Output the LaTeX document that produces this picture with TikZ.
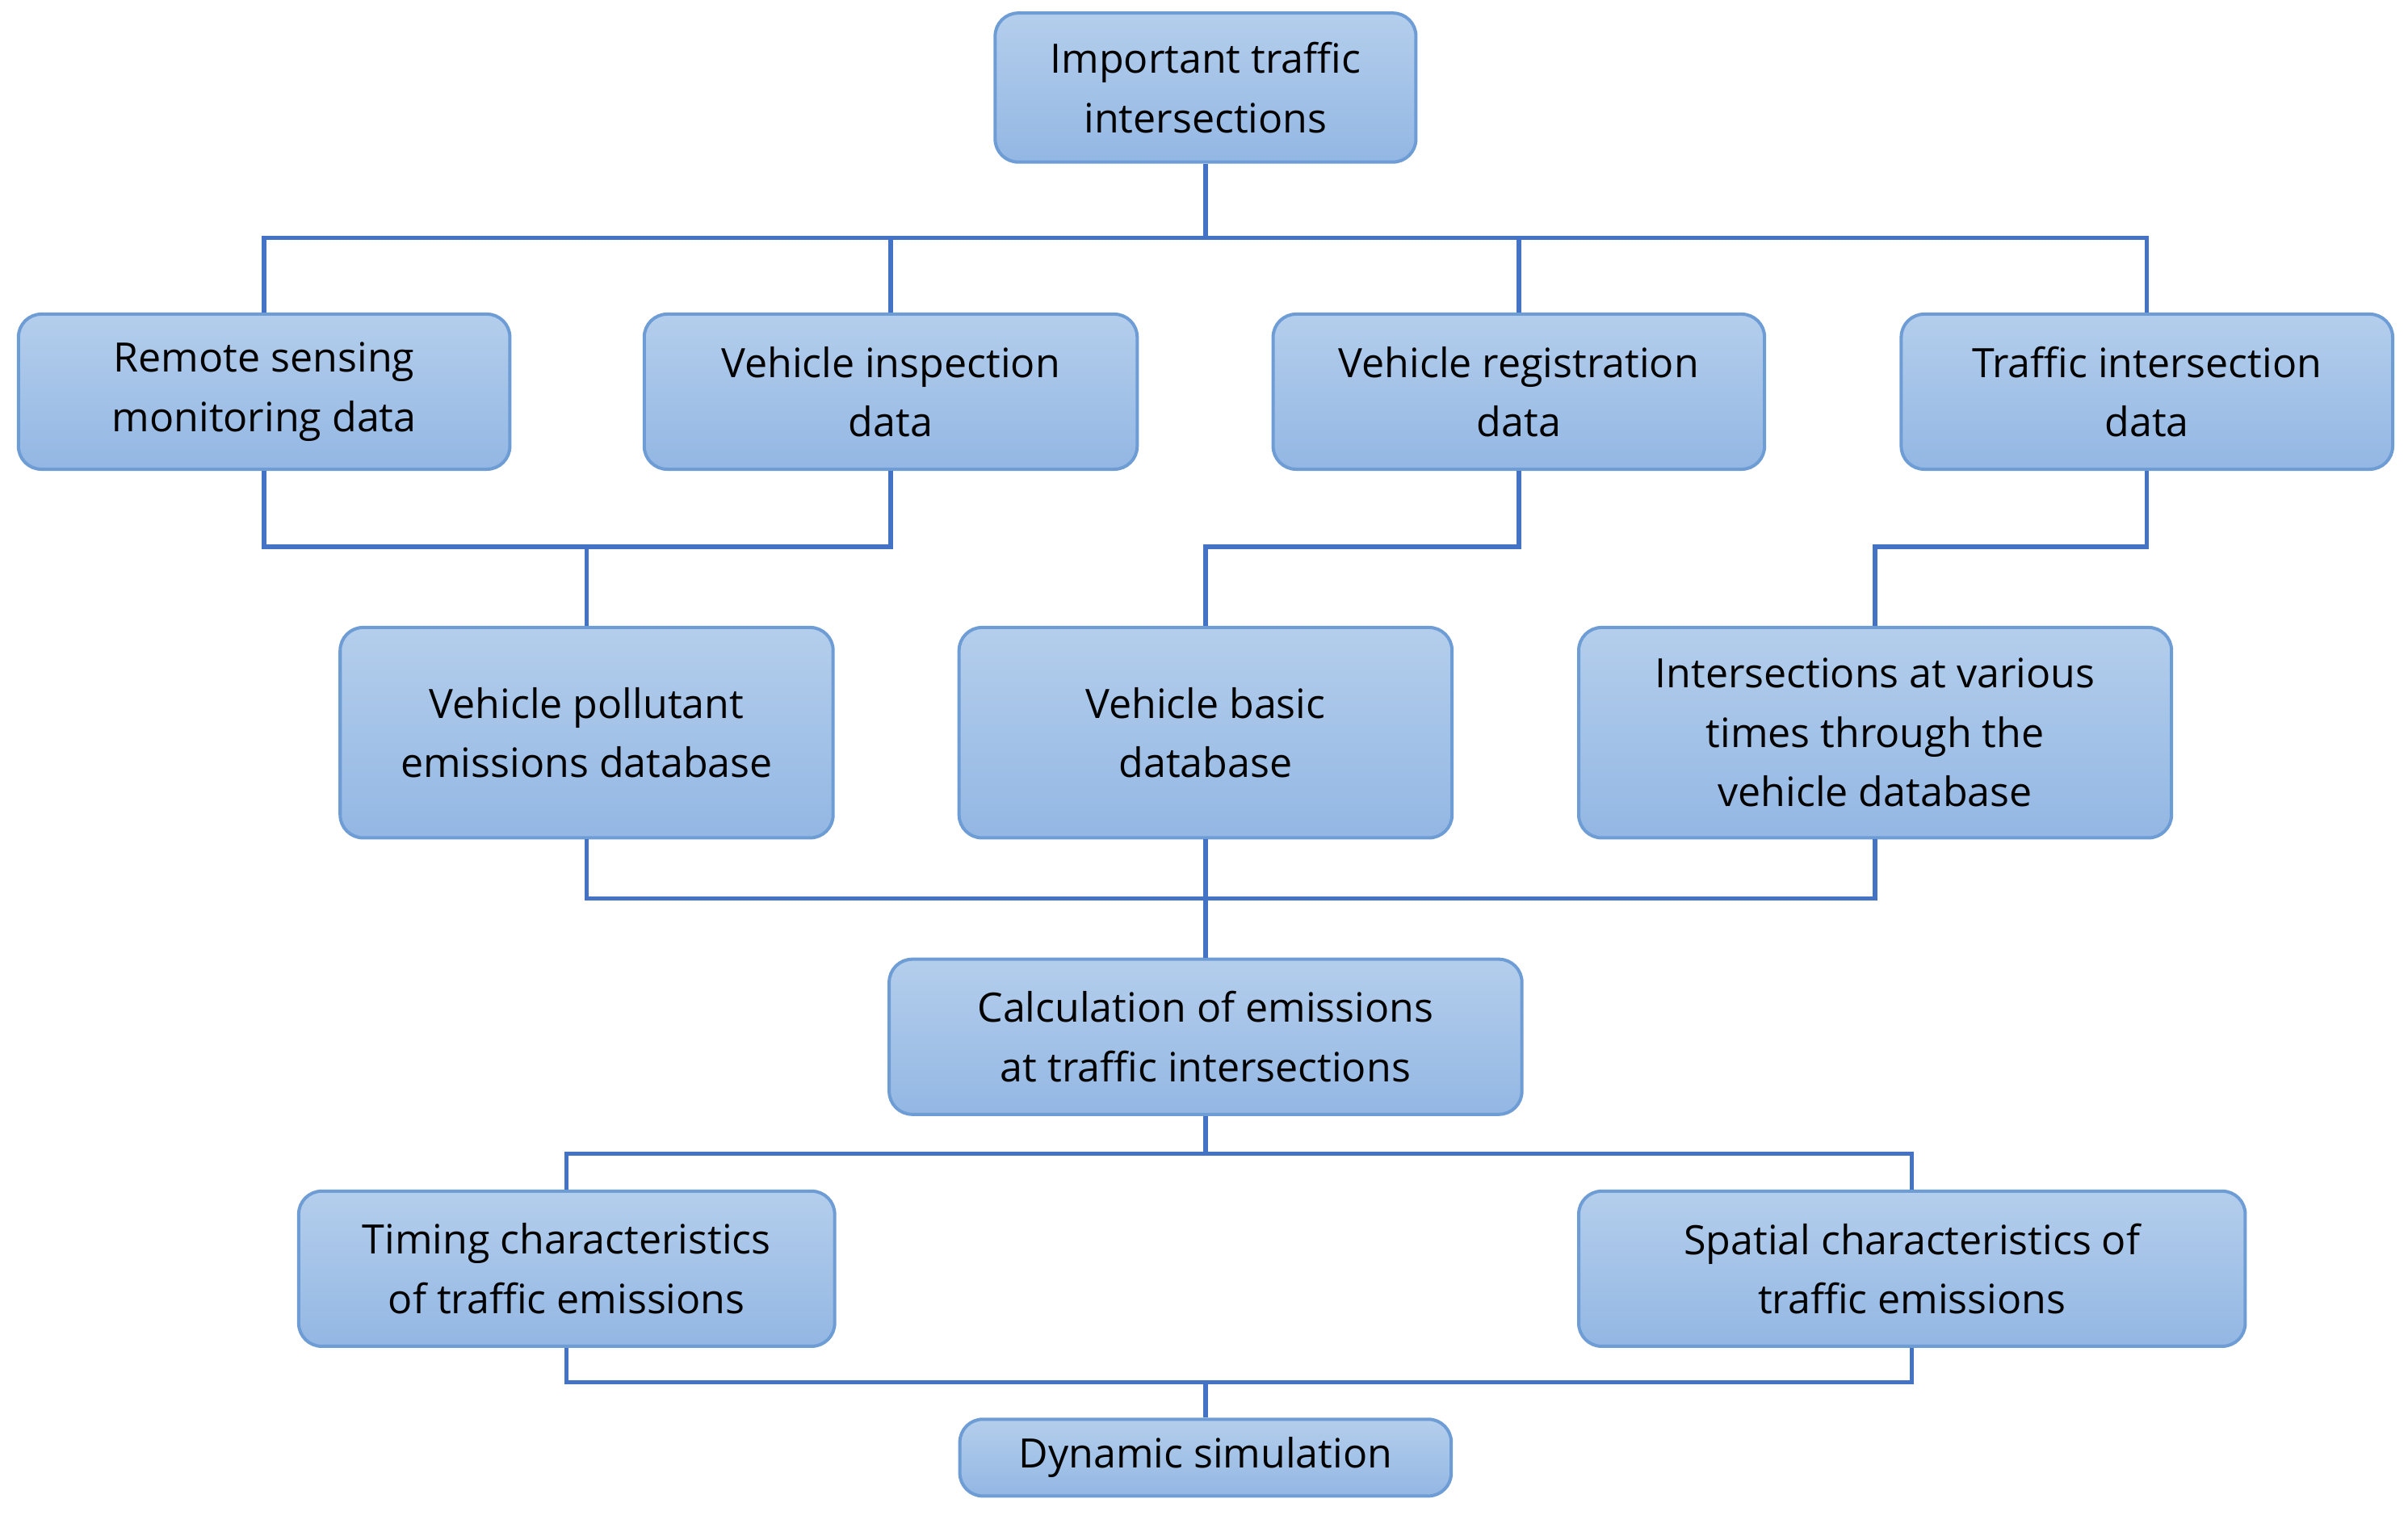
\documentclass[tikz,border=0pt]{standalone}
\usepackage{fontspec}
\setmainfont{Open Sans}
\begin{document}
\begin{tikzpicture}[x=0.02cm,y=-0.02cm,
 box/.style={draw=boxline,line width=1.2pt,rounded corners=0.3cm,top color=boxtop,bottom color=boxbot,align=center,font=\fontsize{15}{22}\selectfont,inner sep=0pt},
 ln/.style={draw=linec,line width=1.6pt}]
\definecolor{boxtop}{HTML}{B4CEEC}
\definecolor{boxbot}{HTML}{93B7E3}
\definecolor{boxline}{HTML}{6E9DD6}
\definecolor{linec}{HTML}{4472C4}
\useasboundingbox (0,0) rectangle (1568,992);
\newcommand\bx[6]{\node[box,minimum width=#3*0.02cm,minimum height=#4*0.02cm] (#1) at (#2) {#5};}
\bx{top}{785,57}{274}{97}{Important traffic\\intersections}{}
\bx{a}{172,255}{320}{101}{Remote sensing\\monitoring data}{}
\bx{b}{580,255}{321}{101}{Vehicle inspection\\data}{}
\bx{c}{989,255}{320}{101}{Vehicle registration\\data}{}
\bx{d}{1398,255}{320}{101}{Traffic intersection\\data}{}
\bx{e}{382,477}{321}{137}{Vehicle pollutant\\emissions database}{}
\bx{f}{785,477}{321}{137}{Vehicle basic\\database}{}
\bx{g}{1221,477}{386}{137}{Intersections at various\\times through the\\vehicle database}{}
\bx{h}{785,675}{412}{101}{Calculation of emissions\\at traffic intersections}{}
\bx{i}{369,826}{349}{101}{Timing characteristics\\of traffic emissions}{}
\bx{j}{1245,826}{434}{101}{Spatial characteristics of\\traffic emissions}{}
\bx{k}{785,949}{320}{50}{Dynamic simulation}{}
\coordinate (t1) at (785,155);
\coordinate (t2) at (382,356);
\coordinate (t3) at (785,356);
\coordinate (t4) at (1221,356);
\coordinate (t5) at (785,585);
\coordinate (t6) at (785,751);
\coordinate (t7) at (785,900);
\draw[ln] (top.south) -- (t1);
\draw[ln] (a.north) |- (t1) -| (d.north);
\draw[ln] (b.north) |- (t1) -| (c.north);
\draw[ln] (a.south) |- (t2) -| (b.south);
\draw[ln] (t2) -- (e.north);
\draw[ln] (c.south) |- (t3) -- (f.north);
\draw[ln] (d.south) |- (t4) -- (g.north);
\draw[ln] (e.south) |- (t5) -| (g.south);
\draw[ln] (f.south) -- (h.north);
\draw[ln] (h.south) -- (t6);
\draw[ln] (i.north) |- (t6) -| (j.north);
\draw[ln] (i.south) |- (t7) -| (j.south);
\draw[ln] (t7) -- (k.north);
\end{tikzpicture}
\end{document}
